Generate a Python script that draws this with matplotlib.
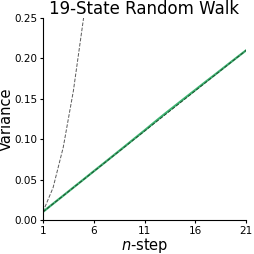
import matplotlib
matplotlib.use("Agg")
import matplotlib.pyplot as plt

n_steps = list(range(1, 22))
# steep dashed curve (only the visible part)
steep_steps = [1, 2, 3, 4, 5, 6]
steep_var = [0.01, 0.04, 0.09, 0.16, 0.25, 0.36]
# reference straight line
ref_var = [0.01, 0.02, 0.03, 0.04, 0.05, 0.06, 0.07, 0.08, 0.09, 0.10, 0.11,
           0.12, 0.13, 0.14, 0.15, 0.16, 0.17, 0.18, 0.19, 0.20, 0.21]
# measured variance (green)
green_var = [0.0100, 0.0201, 0.0301, 0.0402, 0.0502, 0.0603, 0.0703, 0.0804, 0.0905, 0.1007, 0.1108,
             0.1212, 0.1314, 0.1413, 0.1512, 0.1610, 0.1709, 0.1806, 0.1905, 0.2003, 0.2100]

fig = plt.figure(figsize=(2.54, 2.54), dpi=100)
ax = fig.add_axes([0.169, 0.134, 0.80, 0.795])

ax.plot(steep_steps, steep_var, color="0.35", ls="--", lw=0.7)
ax.plot(n_steps, green_var, color="mediumseagreen", lw=1.6)
ax.plot(n_steps, ref_var, color="#1f4f2f", ls="--", lw=0.7)

ax.set_xlim(1, 21)
ax.set_ylim(0, 0.25)
ax.set_xticks([1, 6, 11, 16, 21])
ax.set_yticks([0.0, 0.05, 0.10, 0.15, 0.20, 0.25])
ax.set_yticklabels(["0.00", "0.05", "0.10", "0.15", "0.20", "0.25"])
ax.tick_params(labelsize=7.5, length=2.5, pad=1.5)
ax.spines["top"].set_visible(False)
ax.spines["right"].set_visible(False)
ax.set_xlabel("$n$-step", fontsize=10.5, labelpad=0)
ax.set_ylabel("Variance", fontsize=10.5, labelpad=0)
ax.set_title("19-State Random Walk", fontsize=12, pad=2)

fig.savefig("out.png", dpi=100)
